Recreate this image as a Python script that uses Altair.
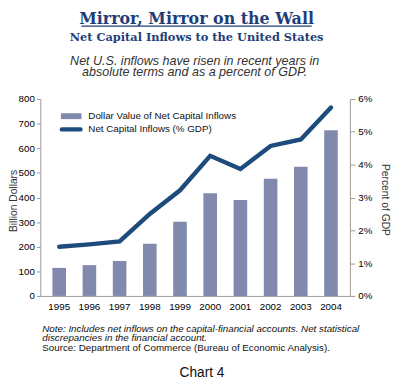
import altair as alt
import pandas as pd

years = ["1995", "1996", "1997", "1998", "1999", "2000", "2001", "2002", "2003", "2004"]
dollars = [114, 125, 142, 212, 301, 417, 390, 476, 525, 673]
pct_gdp = [1.50, 1.57, 1.66, 2.50, 3.22, 4.27, 3.87, 4.57, 4.77, 5.74]

title_text = ["Mirror, Mirror on the Wall"]
subtitle_text = ["Net Capital Inflows to the United States"]
desc_lines = ["Net U.S. inflows have risen in recent years in", "absolute terms and as a percent of GDP."]
note_lines = ["Note: Includes net inflows on the capital-financial accounts. Net statistical",
              "discrepancies in the financial account."]
source_text = ["Source: Department of Commerce (Bureau of Economic Analysis)."]
chart_label = ["Chart 4"]
legend_labels = ["Dollar Value of Net Capital Inflows", "Net Capital Inflows (% GDP)"]
left_title = ["Billion Dollars"]
right_title = ["Percent of GDP"]

df = pd.DataFrame({"year": years, "dollars": dollars, "pct": pct_gdp})

W, H = 316, 201
SANS = "Liberation Sans"
SERIF = "DejaVu Serif"
NAVY = "#1F3E78"
BAR = "#8289AF"
LINE = "#1D4B7B"

xenc = alt.X("year:O", title=None,
             scale=alt.Scale(paddingInner=0.55, paddingOuter=0.4),
             axis=alt.Axis(labelAngle=0, ticks=False, domainColor="#999999",
                           labelFontSize=10, labelPadding=6, labelColor="#000000",
                           labelFont=SANS))

bars = alt.Chart(df).mark_bar(color=BAR).encode(
    x=xenc,
    y=alt.Y("dollars:Q", title=None,
            scale=alt.Scale(domain=[0, 800], nice=False),
            axis=alt.Axis(orient="left", values=list(range(0, 801, 100)), grid=False,
                          domainColor="#999999", tickColor="#999999", tickSize=4,
                          labelFontSize=10, labelPadding=2, labelColor="#000000",
                          labelFont=SANS)),
)

line = alt.Chart(df).mark_line(color=LINE, strokeWidth=4.5, strokeCap="round", strokeJoin="miter").encode(
    x=xenc,
    y=alt.Y("pct:Q", title=None,
            scale=alt.Scale(domain=[0, 6], nice=False),
            axis=alt.Axis(orient="right", values=[0, 1, 2, 3, 4, 5, 6], grid=False,
                          labelExpr="datum.value + '%'",
                          domainColor="#999999", tickColor="#999999", tickSize=5,
                          labelFontSize=10, labelPadding=3, labelColor="#000000",
                          labelFont=SANS)),
)


def txt(lines, x, y, **kw):
    d = pd.DataFrame({"t": lines})
    return alt.Chart(d).mark_text(**kw).encode(text="t:N", x=alt.value(x), y=alt.value(y))


texts = [
    txt(title_text, 159.5, -77, font=SERIF, fontSize=16.2, fontWeight="bold", color=NAVY, align="center", baseline="alphabetic"),
    txt(subtitle_text, 159.5, -59, font=SERIF, fontSize=11.6, fontWeight="bold", color=NAVY, align="center", baseline="alphabetic"),
    txt(desc_lines[:1], 157.5, -34.7, font=SANS, fontSize=12.8, fontStyle="italic", color="#333333", align="center", baseline="alphabetic"),
    txt(desc_lines[1:], 157.5, -23.7, font=SANS, fontSize=12.8, fontStyle="italic", color="#333333", align="center", baseline="alphabetic"),
    txt(note_lines[:1], 2, 238, font=SANS, fontSize=10, fontStyle="italic", color="#111111", align="left", baseline="alphabetic"),
    txt(note_lines[1:], 2, 246.5, font=SANS, fontSize=10, fontStyle="italic", color="#111111", align="left", baseline="alphabetic"),
    txt(source_text, 2, 257, font=SANS, fontSize=10, color="#111111", align="left", baseline="alphabetic"),
    txt(chart_label, 165, 284, font=SANS, fontSize=14, color="#111111", align="center", baseline="alphabetic"),
    txt(legend_labels[:1], 49, 17.5, font=SANS, fontSize=10, color="#111111", align="left", baseline="middle"),
    txt(legend_labels[1:], 49, 31, font=SANS, fontSize=10, color="#111111", align="left", baseline="middle"),
    txt(left_title, -27, 104, font=SANS, fontSize=10.5, color="#333333", align="center", baseline="middle", angle=270),
    txt(right_title, 352, 103, font=SANS, fontSize=10.5, color="#333333", align="center", baseline="middle", angle=90),
]

underline = alt.Chart(pd.DataFrame({"a": [0]})).mark_rule(color=NAVY, strokeWidth=1.3).encode(
    x=alt.value(42), x2=alt.value(277), y=alt.value(-74.5))
leg_swatch = alt.Chart(pd.DataFrame({"a": [0]})).mark_rect(color=BAR).encode(
    x=alt.value(21), x2=alt.value(42), y=alt.value(14.5), y2=alt.value(20.5))
leg_line = alt.Chart(pd.DataFrame({"a": [0]})).mark_rule(color=LINE, strokeWidth=4.5, strokeCap="round").encode(
    x=alt.value(22), x2=alt.value(41), y=alt.value(31))

main = alt.layer(bars, line).resolve_scale(y="independent")

chart = alt.layer(main, underline, leg_swatch, leg_line, *texts).properties(
    width=W, height=H,
    autosize=alt.AutoSizeParams(type="none"),
    padding={"left": 33, "top": 89, "right": 43, "bottom": 88},
).configure_view(stroke=None)

chart.save("out.html", embed_options={"renderer": "svg", "actions": False})
